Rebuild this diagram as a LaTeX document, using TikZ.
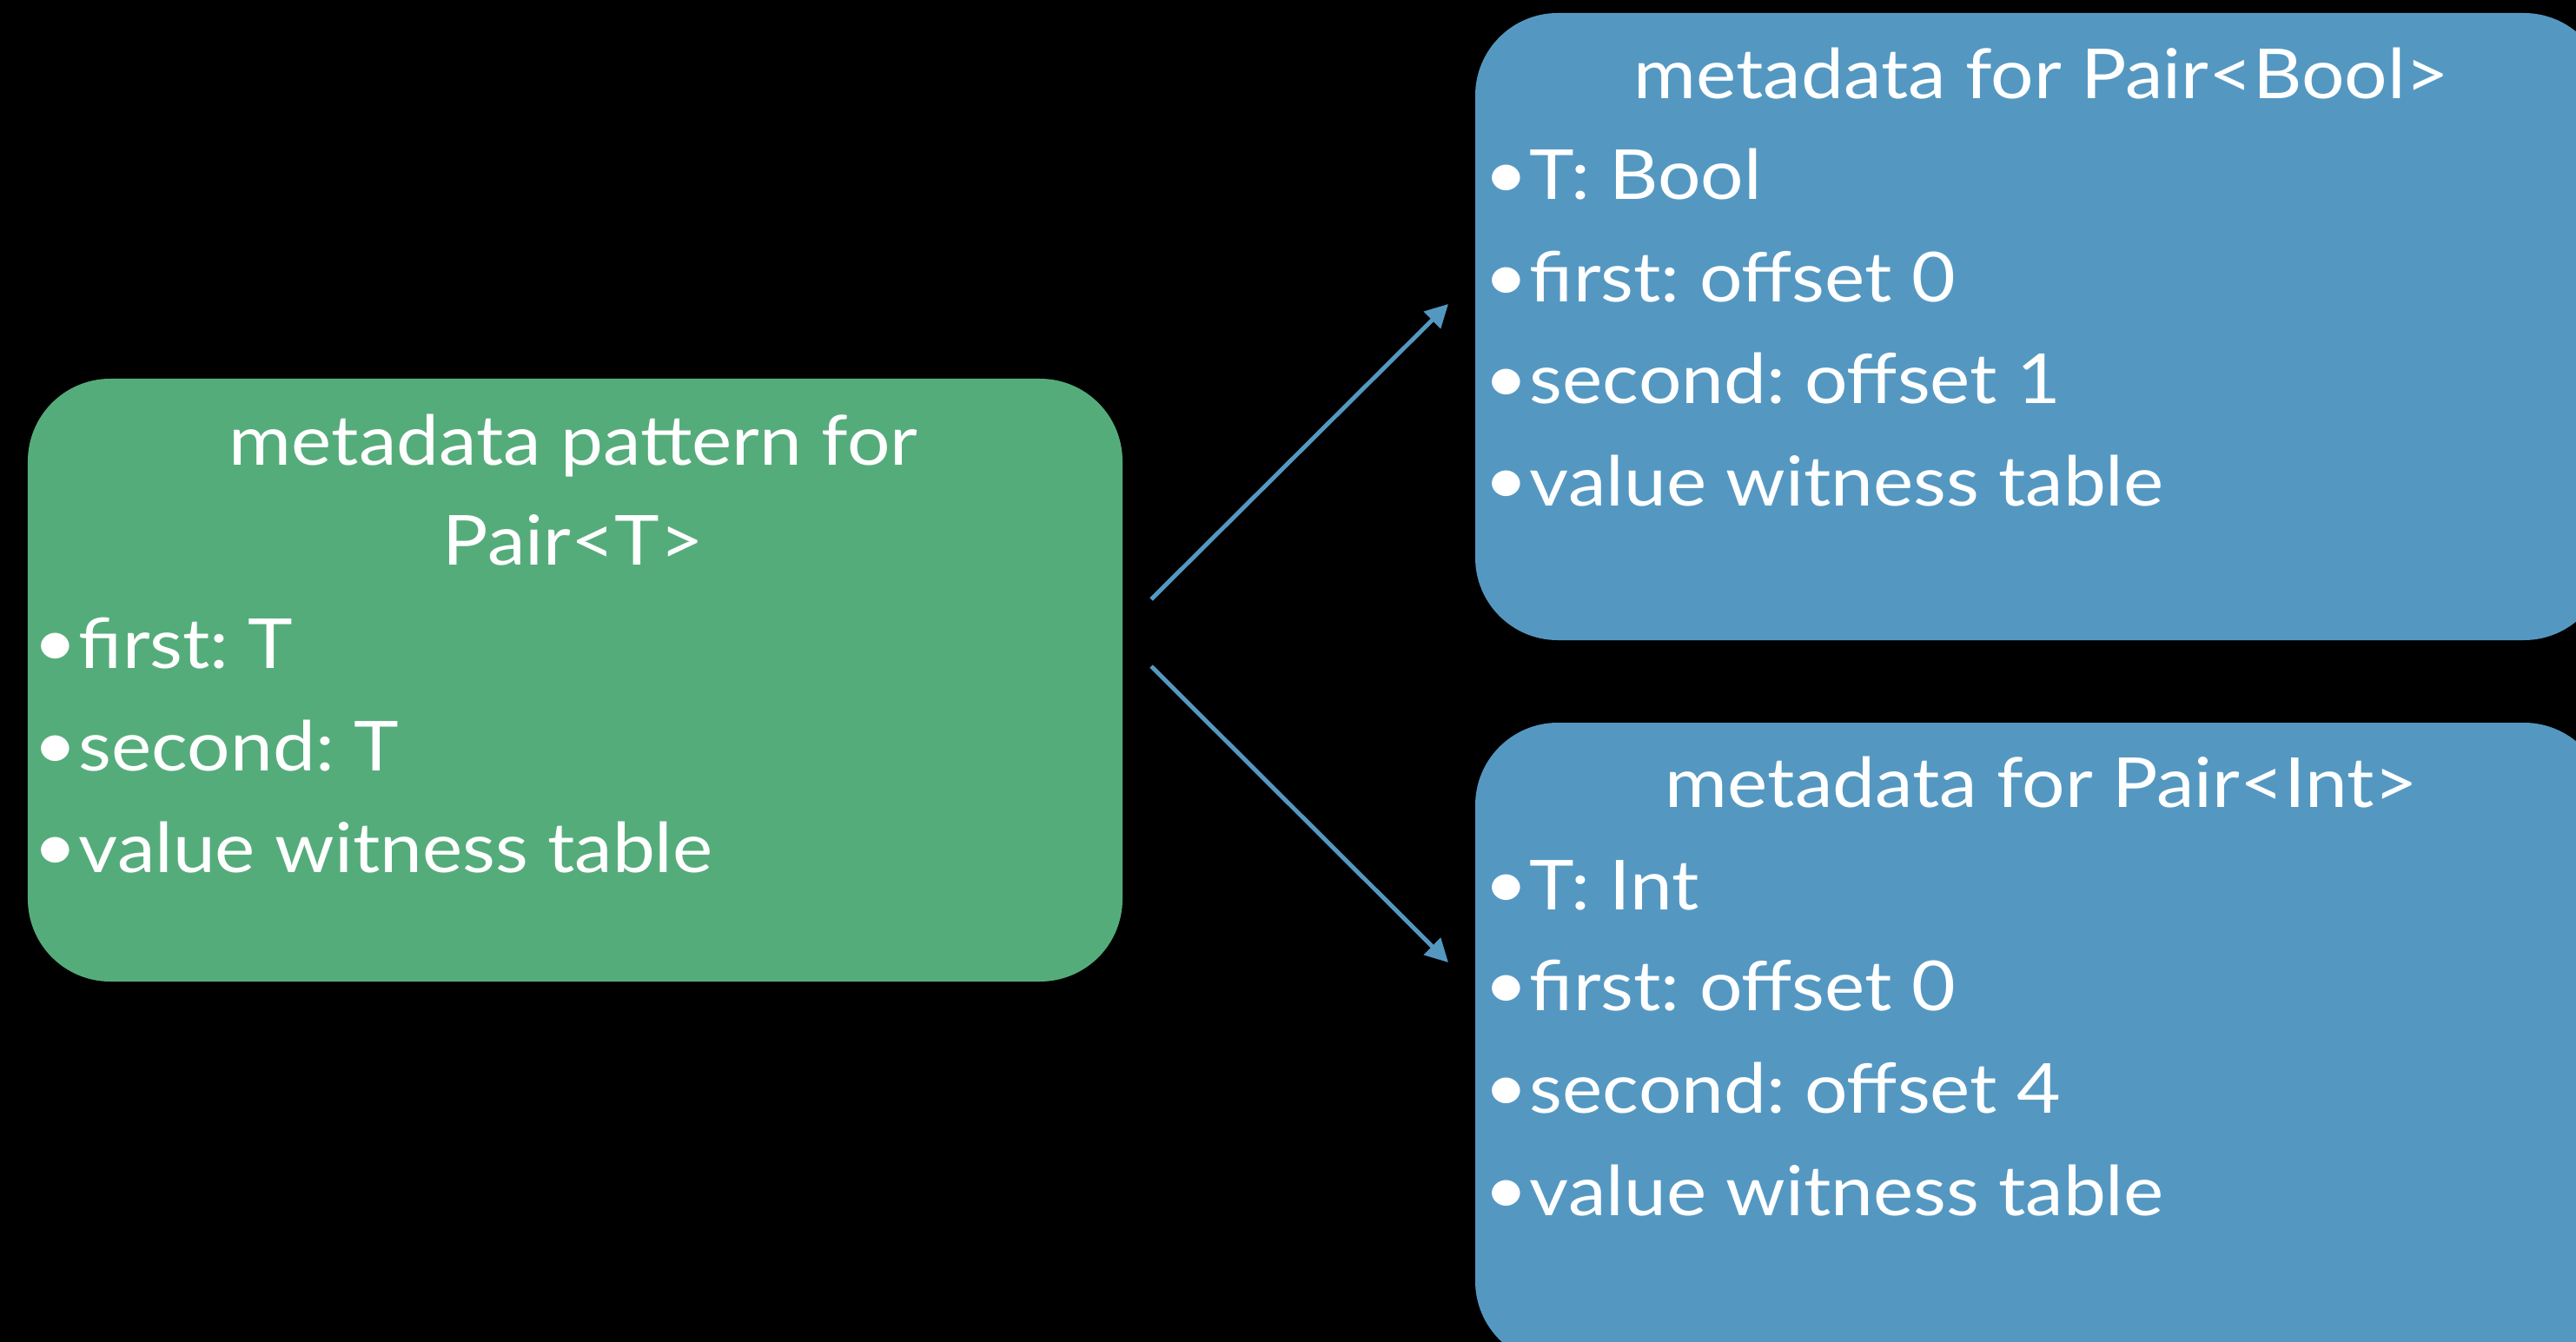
\documentclass[tikz,border=0pt]{standalone}
\usepackage{fontspec}
\setmainfont[FakeStretch=1.1]{Lato}
\usetikzlibrary{arrows.meta}
\definecolor{boxgreen}{HTML}{55AC7B}
\definecolor{boxblue}{HTML}{5498C2}
\tikzset{
  panel/.style={rounded corners=0.95cm, inner sep=0pt, draw=none},
  greenpanel/.style={panel, fill=boxgreen},
  bluepanel/.style={panel, fill=boxblue},
  txt/.style={text=white, inner sep=0pt, font=\fontsize{22.6pt}{27pt}\selectfont\frenchspacing},
  ttl/.style={txt, anchor=base},
  item/.style={txt, anchor=base west},
  link/.style={draw=boxblue, line width=1.4pt, -{Triangle[length=7.5pt,width=7.6pt]}}
}
\newcommand{\bul}{\raisebox{0.02em}{•}\kern0.02em}
\begin{document}
\begin{tikzpicture}
\fill[black] (0,0) rectangle (29.65,-15.45);
\useasboundingbox (0,0) rectangle (29.65,-15.45);
\begin{scope}
\clip (0,0) rectangle (29.65,-15.45);
% boxes
\node[greenpanel, minimum width=12.60cm, minimum height=6.94cm] (pat) at (6.62,-7.83) {};
\node[bluepanel, minimum width=13.02cm, minimum height=7.22cm] (boolm) at (23.49,-3.76) {};
\node[bluepanel, minimum width=13.02cm, minimum height=7.38cm] (intm) at (23.49,-12.01) {};
\end{scope}
% green texts
\node[ttl] (pt1) at (6.60,-5.35) {metadata pattern for};
\node[ttl] (pt2) at (6.60,-6.50) {Pair<T>};
\node[item] (pi1) at (0.38,-7.69) {\bul first: T};
\node[item] (pi2) at (0.38,-8.87) {\bul second: T};
\node[item] (pi3) at (0.38,-10.04) {\bul value witness table};
% blue top texts
\node[ttl] (bt) at (23.50,-1.14) {metadata for Pair<Bool>};
\node[item] (bi1) at (17.08,-2.30) {\bul T: Bool};
\node[item] (bi2) at (17.08,-3.48) {\bul first: offset 0};
\node[item] (bi3) at (17.08,-4.65) {\bul second: offset 1};
\node[item] (bi4) at (17.08,-5.82) {\bul value witness table};
% blue bottom texts
\node[ttl] (it) at (23.50,-9.29) {metadata for Pair<Int>};
\node[item] (ii1) at (17.08,-10.47) {\bul T: Int};
\node[item] (ii2) at (17.08,-11.63) {\bul first: offset 0};
\node[item] (ii3) at (17.08,-12.81) {\bul second: offset 4};
\node[item] (ii4) at (17.08,-13.99) {\bul value witness table};
% arrows
\coordinate (s1) at (13.25,-6.90);
\coordinate (e1) at (16.67,-3.50);
\coordinate (s2) at (13.25,-7.67);
\coordinate (e2) at (16.67,-11.08);
\draw[link] (s1) -- (e1);
\draw[link] (s2) -- (e2);
\end{tikzpicture}
\end{document}
